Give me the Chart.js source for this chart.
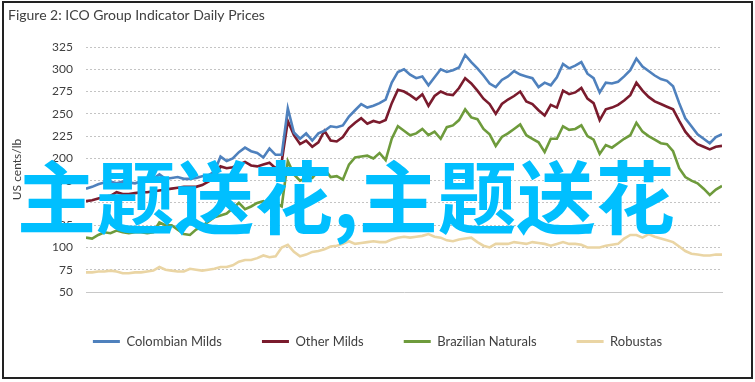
<!DOCTYPE html>
<html><head><meta charset="utf-8">
<script src="https://cdn.jsdelivr.net/npm/chart.js@4.4.0/dist/chart.umd.min.js"></script>
<style>
html,body{margin:0;padding:0;background:#fff;}
#wrap{position:relative;width:755px;height:382px;overflow:hidden;background:#fff;}
#c{position:absolute;left:0;top:0;}
#frame{position:absolute;left:2px;top:1px;width:747px;height:374px;border:2px solid #222;pointer-events:none;}
#wm{position:absolute;left:17px;top:154px;font-family:"Noto Sans CJK SC";font-weight:700;font-size:79px;line-height:79px;color:#00BFFF;white-space:nowrap;pointer-events:none;}
</style></head><body>
<div id="wrap"><canvas id="c" width="755" height="382"></canvas><div id="frame"></div><div id="wm">主题送花,主题送花</div></div>
<script>
const titleText = 'Figure 2: ICO Group Indicator Daily Prices';
const yAxisTitle = 'US cents/lb';
const seriesNames = ['Colombian Milds', 'Other Milds', 'Brazilian Naturals', 'Robustas'];
const tickLabels = ['Dec-20', 'Mar-21', 'Jun-21', 'Sep-21', 'Dec-21', 'Mar-22', 'Jun-22', 'Sep-22'];
const tickDays = [0, 90, 182, 274, 365, 455, 547, 639];
const weekStep = 7; // one reading per week, starting 1 Dec 2020

const colombianMilds = [166,168,171,173,174,172,174,173,172,174,
 175,177,182,177,178,179,177,177,178,180,
 181,185,202,197,200,207,212,208,206,201,
 211,204,204,256,229,222,228,220,228,231,
 236,235,237,247,254,261,257,259,262,266,
 285,297,300,294,290,292,282,291,300,297,
 299,302,316,308,301,293,284,280,288,292,
 298,294,292,290,280,285,282,291,306,301,
 304,308,295,290,274,285,284,286,292,299,
 312,303,298,293,289,287,281,262,245,236,
 227,222,217,224,227];
const otherMilds = [152,153,155,157,158,162,160,160,161,162,
 162,163,164,165,166,167,168,168,168,170,
 174,178,191,189,190,193,196,192,191,193,
 195,189,196,242,226,216,220,213,218,231,
 220,219,224,234,240,245,239,242,240,243,
 262,277,275,271,266,272,259,270,275,272,
 271,279,290,284,276,267,261,250,261,266,
 270,275,264,261,254,248,260,257,276,272,
 274,279,267,262,243,255,257,260,265,271,
 285,276,269,264,261,258,255,242,230,222,
 216,213,210,213,214];
const brazilianNaturals = [111,110,114,117,116,119,117,116,117,117,
 116,117,128,125,125,120,115,114,120,124,
 129,134,136,138,144,150,143,146,150,152,
 148,150,146,197,182,175,178,178,186,188,
 179,180,176,193,201,202,203,200,206,198,
 222,236,231,226,228,233,226,230,222,235,
 237,243,255,246,244,233,227,214,224,228,
 233,238,226,222,218,207,222,222,236,232,
 233,237,225,221,205,215,212,217,222,226,
 240,230,225,221,217,216,208,189,179,175,
 172,166,159,165,169];
const robustas = [72,72,73,73,74,73,71,71,72,72,
 73,74,78,75,74,73,73,76,75,74,
 75,76,78,78,80,84,86,86,88,91,
 89,90,100,103,95,90,92,95,96,98,
 101,102,104,107,104,105,106,107,106,106,
 109,111,112,111,112,113,115,112,111,108,
 107,109,110,111,106,102,100,104,104,104,
 106,105,104,106,105,104,102,104,106,104,
 104,103,100,100,100,102,103,104,110,114,
 114,111,115,112,110,108,106,101,96,93,
 92,91,91,92,92];

const seriesValues = [colombianMilds, otherMilds, brazilianNaturals, robustas];
const colors = ['#4F81BD', '#7A1B2D', '#6E9B3C', '#EAD5A4'];
const textColor = '#404040';
const fontFamily = 'Lato';

new Chart(document.getElementById('c'), {
  type: 'line',
  data: {
    datasets: seriesNames.map((name, k) => ({
      label: name,
      data: seriesValues[k].map((v, i) => ({ x: i * weekStep, y: v })),
      borderColor: colors[k],
      backgroundColor: colors[k],
      borderWidth: 2.6,
      pointRadius: 0,
      tension: 0,
      fill: false
    }))
  },
  options: {
    responsive: false,
    animation: false,
    devicePixelRatio: 1,
    layout: { padding: { left: 8, right: 8, top: 0, bottom: 24 } },
    plugins: {
      title: {
        display: true, text: titleText, align: 'start', color: textColor,
        font: { family: fontFamily, size: 14, weight: 'normal' },
        padding: { top: 7, bottom: 23.2 }
      },
      legend: {
        position: 'bottom',
        labels: {
          boxWidth: 27, boxHeight: 3, padding: 40, color: textColor,
          font: { family: fontFamily, size: 13 },
          generateLabels(chart) {
            const items = Chart.defaults.plugins.legend.labels.generateLabels(chart);
            items.forEach(it => { it.lineWidth = 0; });
            return items;
          }
        }
      },
      tooltip: { enabled: false }
    },
    scales: {
      x: {
        type: 'linear', min: 0, max: 728,
        grid: { display: false, drawTicks: false },
        border: { display: true, color: '#C8C8C8', width: 1 },
        ticks: {
          padding: 10, color: textColor, autoSkip: false, maxRotation: 0,
          font: { family: fontFamily, size: 12 },
          callback: (v) => { const k = tickDays.indexOf(v); return k >= 0 ? tickLabels[k] : ''; }
        },
        afterBuildTicks: (s) => { s.ticks = tickDays.map(d => ({ value: d })); },
        afterFit: (s) => { s.height = 3; }
      },
      y: {
        position: 'left', min: 50, max: 325,
        ticks: { stepSize: 25, padding: 13, color: textColor, font: { family: fontFamily, size: 12 } },
        grid: {
          drawTicks: false, lineWidth: 1,
          color: (ctx) => (ctx.tick && ctx.tick.value === 50) ? 'rgba(0,0,0,0)' : '#C4C4C4'
        },
        border: { display: false, dash: [2, 2] },
        title: { display: true, text: yAxisTitle, color: textColor, font: { family: fontFamily, size: 12 }, padding: { top: 2, bottom: 0 } },
        afterFit: (s) => { s.width = 78; }
      },
      y2: {
        position: 'right', display: true,
        grid: { display: false, drawTicks: false },
        border: { display: false },
        ticks: { display: false },
        afterFit: (s) => { s.width = 25; }
      }
    }
  }
});
</script>
</body></html>
